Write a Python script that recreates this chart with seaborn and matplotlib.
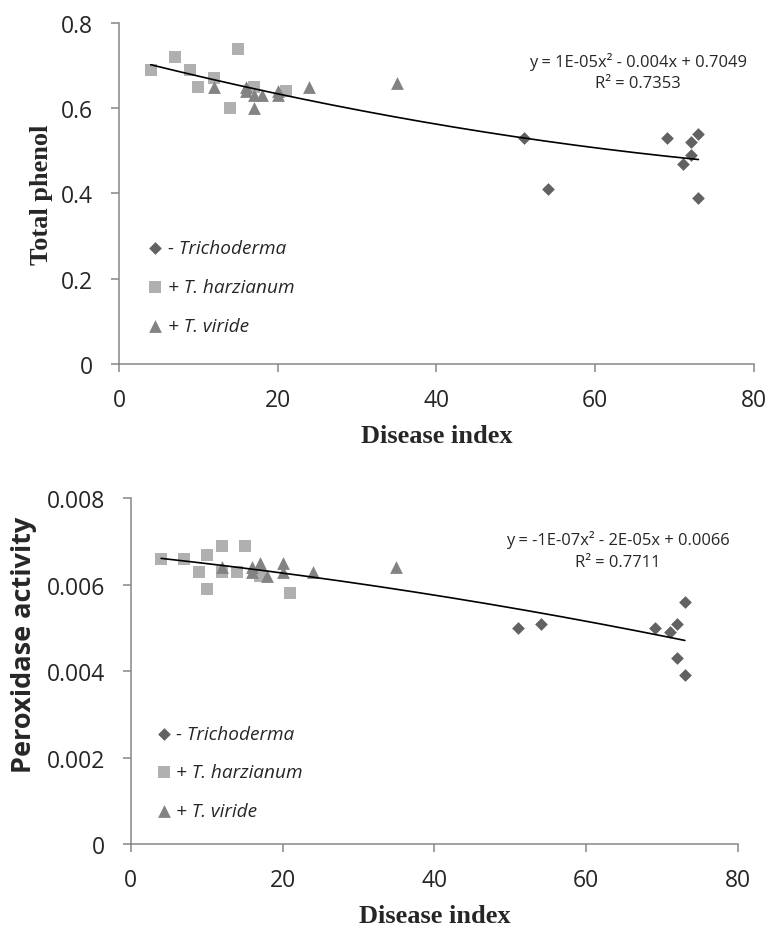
import numpy as np
import pandas as pd
import matplotlib
matplotlib.use("Agg")
import matplotlib.pyplot as plt
import seaborn as sns

# Disease index vs total phenol
phenol_minus_x = [51, 54, 69, 71, 72, 72, 73, 73]
phenol_minus_y = [0.53, 0.41, 0.53, 0.47, 0.52, 0.49, 0.54, 0.39]
phenol_harz_x = [4, 7, 9, 10, 12, 14, 15, 17, 21]
phenol_harz_y = [0.69, 0.72, 0.69, 0.65, 0.67, 0.60, 0.74, 0.65, 0.64]
phenol_vir_x = [12, 16, 16, 17, 17, 18, 20, 20, 24, 35]
phenol_vir_y = [0.65, 0.65, 0.64, 0.63, 0.60, 0.63, 0.64, 0.63, 0.65, 0.66]

# Disease index vs peroxidase activity
perox_minus_x = [51, 54, 69, 71, 72, 72, 73, 73]
perox_minus_y = [0.0050, 0.0051, 0.0050, 0.0049, 0.0051, 0.0043, 0.0056, 0.0039]
perox_harz_x = [4, 7, 9, 10, 10, 12, 12, 14, 15, 17, 21]
perox_harz_y = [0.0066, 0.0066, 0.0063, 0.0067, 0.0059, 0.0069, 0.0063, 0.0063, 0.0069, 0.0062, 0.0058]
perox_vir_x = [12, 16, 16, 17, 18, 20, 20, 24, 35]
perox_vir_y = [0.0064, 0.0064, 0.0063, 0.0065, 0.0062, 0.0065, 0.0063, 0.0063, 0.0064]

groups = ["- Trichoderma", "+ T. harzianum", "+ T. viride"]
phenol_ticks = [0, 0.2, 0.4, 0.6, 0.8]
phenol_ticklabels = ["0", "0.2", "0.4", "0.6", "0.8"]
perox_ticks = [0, 0.002, 0.004, 0.006, 0.008]
perox_ticklabels = ["0", "0.002", "0.004", "0.006", "0.008"]
x_ticks = [0, 20, 40, 60, 80]

phenol_eq = ["y = 1E-05x\u00b2 - 0.004x + 0.7049", "R\u00b2 = 0.7353"]
perox_eq = ["y = -1E-07x\u00b2 - 2E-05x + 0.0066", "R\u00b2 = 0.7711"]

sns.set_style("white")
plt.rcParams['font.family'] = ['Open Sans', 'DejaVu Sans']

colors = {"- Trichoderma": "#626262", "+ T. harzianum": "#b0b0b0", "+ T. viride": "#838383"}
markers = {"- Trichoderma": "D", "+ T. harzianum": "s", "+ T. viride": "^"}
sizes = {"- Trichoderma": 42, "+ T. harzianum": 78, "+ T. viride": 85}
axis_gray = "#868686"


def make_df(xs, ys):
    rows = []
    for g, x, y in zip(groups, xs, ys):
        for a, b in zip(x, y):
            rows.append({"disease": a, "value": b, "group": g})
    return pd.DataFrame(rows)


def draw(ax, df, ticks, ticklabels, ylabel, ylabel_font, eq, eq_pos, leg_anchor):
    for g in groups:
        sub = df[df["group"] == g]
        sns.scatterplot(data=sub, x="disease", y="value", ax=ax, color=colors[g],
                        marker=markers[g], s=sizes[g], linewidth=0, label=g, zorder=3)
    # 2nd order polynomial trend line over all points
    coef = np.polyfit(df["disease"], df["value"], 2)
    xs = np.linspace(df["disease"].min(), df["disease"].max(), 200)
    ax.plot(xs, np.polyval(coef, xs), color="black", lw=1.2, zorder=4)

    ax.set_xlim(0, 80)
    ax.set_ylim(ticks[0], ticks[-1])
    ax.set_xticks(x_ticks)
    ax.set_xticklabels([str(t) for t in x_ticks])
    ax.set_yticks(ticks)
    ax.set_yticklabels(ticklabels)
    ax.tick_params(axis="both", direction="out", length=6, width=1.1, color=axis_gray,
                   labelsize=16.5, pad=11, left=True, bottom=True)
    ax.tick_params(axis="y", pad=12.5)
    for side in ["top", "right"]:
        ax.spines[side].set_visible(False)
    for side in ["left", "bottom"]:
        ax.spines[side].set_color(axis_gray)
        ax.spines[side].set_linewidth(1.1)

    ax.set_xlabel("Disease index", fontsize=19, fontweight="bold",
                  family="Liberation Serif", labelpad=9)
    ax.set_ylabel(ylabel, fontweight="bold", **ylabel_font)

    ax.text(eq_pos[0], eq_pos[1], eq[0], transform=ax.transAxes, ha="center",
            va="center", fontsize=11.9)
    ax.text(eq_pos[0], eq_pos[2], eq[1], transform=ax.transAxes, ha="center",
            va="center", fontsize=11.9)

    ax.legend(loc="center left", bbox_to_anchor=leg_anchor, frameon=False,
              handletextpad=0.15, handlelength=1.0, labelspacing=1.1,
              borderpad=0, borderaxespad=0,
              prop={"style": "italic", "size": 13.7, "family": "Open Sans"})


fig = plt.figure(figsize=(7.69, 9.29), dpi=100)
ax1 = fig.add_axes([0.1547, 0.6071, 0.8258, 0.3671])
ax2 = fig.add_axes([0.1700, 0.0904, 0.7897, 0.3721])

phenol_df = make_df([phenol_minus_x, phenol_harz_x, phenol_vir_x],
                    [phenol_minus_y, phenol_harz_y, phenol_vir_y])
perox_df = make_df([perox_minus_x, perox_harz_x, perox_vir_x],
                   [perox_minus_y, perox_harz_y, perox_vir_y])

draw(ax1, phenol_df, phenol_ticks, phenol_ticklabels, "Total phenol",
     {"fontsize": 19, "family": "Liberation Serif", "labelpad": 6}, phenol_eq,
     (0.817, 0.888, 0.823), (0.042, 0.226))
draw(ax2, perox_df, perox_ticks, perox_ticklabels, "Peroxidase activity",
     {"fontsize": 19.5, "family": "Open Sans"}, perox_eq,
     (0.802, 0.882, 0.816), (0.039, 0.207))
# the y title of the lower chart sits a little above the axis centre
ax2.yaxis.set_label_coords(-0.155, 0.578)

fig.savefig("out.png", dpi=100)
